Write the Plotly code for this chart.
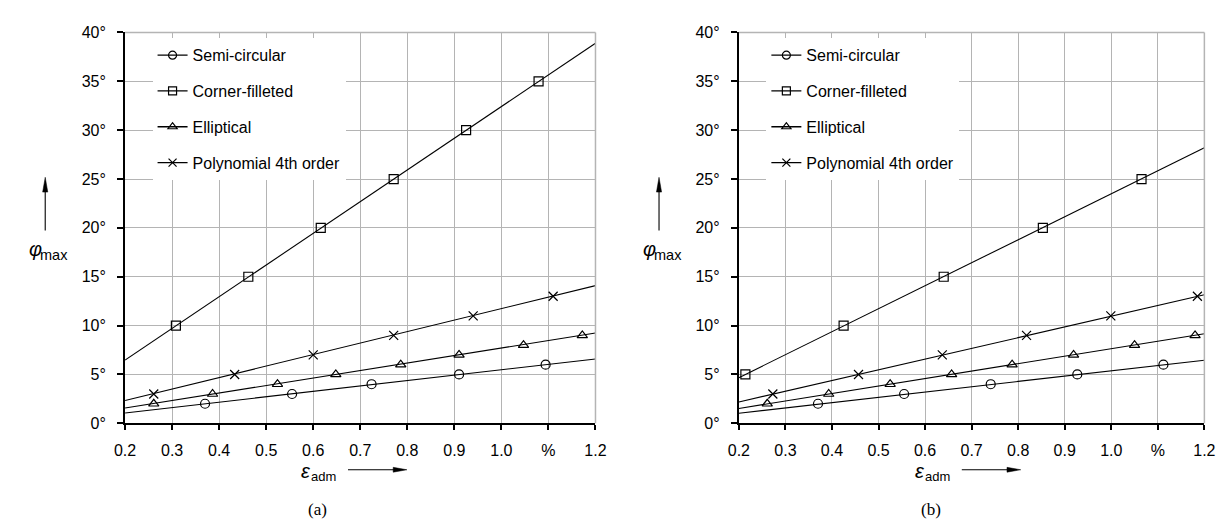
import plotly.graph_objects as go

W, H = 1228, 523

# ---------------- data ----------------
series_names = ["Semi-circular", "Corner-filleted", "Elliptical", "Polynomial 4th order"]
symbols = ["circle-open", "square-open", "triangle-up-open", "x-thin-open"]

# panel (a)
a_semi_x = [0.370, 0.555, 0.724, 0.910, 1.094]
a_semi_y = [2, 3, 4, 5, 6]
a_corner_x = [0.308, 0.462, 0.616, 0.771, 0.925, 1.079]
a_corner_y = [10, 15, 20, 25, 30, 35]
a_ellip_x = [0.261, 0.386, 0.524, 0.648, 0.786, 0.910, 1.047, 1.172]
a_ellip_y = [2, 3, 4, 5, 6, 7, 8, 9]
a_poly_x = [0.261, 0.433, 0.600, 0.771, 0.940, 1.110]
a_poly_y = [3, 5, 7, 9, 11, 13]

# fitted lines (a), values at eps = 0.2 and 1.2
fit_x = [0.2, 1.2]
a_semi_fit = [1.06, 6.58]
a_corner_fit = [6.47, 38.9]
a_ellip_fit = [1.56, 9.24]
a_poly_fit = [2.33, 14.09]

# panel (b)
b_semi_x = [0.370, 0.555, 0.741, 0.927, 1.112]
b_semi_y = [2, 3, 4, 5, 6]
b_corner_x = [0.214, 0.425, 0.640, 0.853, 1.065]
b_corner_y = [5, 10, 15, 20, 25]
b_ellip_x = [0.261, 0.393, 0.525, 0.657, 0.787, 0.919, 1.050, 1.180]
b_ellip_y = [2, 3, 4, 5, 6, 7, 8, 9]
b_poly_x = [0.273, 0.457, 0.637, 0.818, 0.999, 1.185]
b_poly_y = [3, 5, 7, 9, 11, 13]

b_semi_fit = [1.03, 6.46]
b_corner_fit = [4.67, 28.2]
b_ellip_fit = [1.52, 9.17]
b_poly_fit = [2.19, 13.15]

x_tickvals = [0.2, 0.3, 0.4, 0.5, 0.6, 0.7, 0.8, 0.9, 1.0, 1.1, 1.2]
x_ticktext = ["0.2", "0.3", "0.4", "0.5", "0.6", "0.7", "0.8", "0.9", "1.0", "%", "1.2"]
y_tickvals = [0, 5, 10, 15, 20, 25, 30, 35, 40]
y_ticktext = ["0°", "5°", "10°", "15°", "20°", "25°", "30°", "35°", "40°"]

# ---------------- styling ----------------
FONT = "Liberation Sans, Arial, sans-serif"
SERIF = "Liberation Serif, Times New Roman, serif"
GRID = "#b4b4b4"


def px(x):
    return x / W


def py(y):
    return 1 - y / H


panels = [
    dict(xa="x", ya="y", legend="legend",
         data=[(a_semi_x, a_semi_y, a_semi_fit), (a_corner_x, a_corner_y, a_corner_fit),
               (a_ellip_x, a_ellip_y, a_ellip_fit), (a_poly_x, a_poly_y, a_poly_fit)]),
    dict(xa="x2", ya="y2", legend="legend2",
         data=[(b_semi_x, b_semi_y, b_semi_fit), (b_corner_x, b_corner_y, b_corner_fit),
               (b_ellip_x, b_ellip_y, b_ellip_fit), (b_poly_x, b_poly_y, b_poly_fit)]),
]

fig = go.Figure()
for p in panels:
    for i, (xs, ys, fit) in enumerate(p["data"]):
        fig.add_trace(go.Scatter(x=fit_x, y=fit, mode="lines", xaxis=p["xa"], yaxis=p["ya"],
                                 line=dict(color="black", width=1.1), showlegend=False,
                                 hoverinfo="skip"))
        fig.add_trace(go.Scatter(x=xs, y=ys, mode="markers", xaxis=p["xa"], yaxis=p["ya"],
                                 marker=dict(symbol=symbols[i], size=9, color="black",
                                             line=dict(color="black", width=1.2)),
                                 showlegend=False, name=series_names[i]))
    for i, name in enumerate(series_names):
        fig.add_trace(go.Scatter(x=[None], y=[None], mode="lines+markers", name=name,
                                 xaxis=p["xa"], yaxis=p["ya"], legend=p["legend"],
                                 legendgroup=p["legend"] + str(i),
                                 line=dict(color="black", width=1.3),
                                 marker=dict(symbol=symbols[i], size=8, color="black",
                                             line=dict(color="black", width=1.2))))

xdom_a = [px(108), px(587)]
xdom_b = [px(733), px(1207)]
ydom = [py(421), py(17)]

common_x = dict(range=[0.2, 1.2], tickmode="array", tickvals=x_tickvals, ticktext=x_ticktext,
                showgrid=True, gridcolor=GRID, gridwidth=1, showline=True, linecolor="black",
                linewidth=2, ticks="outside", ticklen=5, tickcolor="black", tickwidth=1.5,
                tickfont=dict(family=FONT, size=16, color="black"), zeroline=False,
                ticklabelstandoff=6, fixedrange=True)
common_y = dict(range=[0, 40], tickmode="array", tickvals=y_tickvals, ticktext=y_ticktext,
                showgrid=True, gridcolor=GRID, gridwidth=1, showline=True, linecolor="black",
                linewidth=2, ticks="outside", ticklen=6, tickcolor="black", tickwidth=1.5,
                tickfont=dict(family=FONT, size=16, color="black"), zeroline=False,
                ticklabelstandoff=8, fixedrange=True)

legend_common = dict(bgcolor="white", borderwidth=0, xanchor="left", yanchor="top",
                     font=dict(family=FONT, size=16, color="black"), tracegroupgap=12,
                     itemwidth=30)

annotations = []
shapes = []


def ann(x, y, text, size, family=FONT):
    return dict(x=px(x), y=py(y), xref="paper", yref="paper", text=text, showarrow=False,
                xanchor="center", yanchor="middle",
                font=dict(family=family, size=size, color="black"))


for off, cap in [(0, "(a)"), (625, "(b)")]:
    # y title: phi_max with upward arrow
    annotations.append(ann(16.7 + off, 240.5, "<i>φ</i>", 20))
    annotations.append(ann(35.5 + off, 247.5, "max", 14.5))
    shapes.append(dict(type="line", xref="paper", yref="paper",
                       x0=px(26.7 + off), x1=px(26.7 + off), y0=py(221.7), y1=py(180),
                       line=dict(color="black", width=1.1)))
    shapes.append(dict(type="path", xref="paper", yref="paper",
                       path=f"M {px(26.7 + off)} {py(166.7)} L {px(24.1 + off)} {py(182)} "
                            f"L {px(29.3 + off)} {py(182)} Z",
                       fillcolor="black", line=dict(color="black", width=0.5)))
    # x title: eps_adm with right arrow
    annotations.append(ann(292 + off, 470, "<i>ε</i>", 20))
    annotations.append(ann(310.5 + off, 475.5, "adm", 13))
    shapes.append(dict(type="line", xref="paper", yref="paper",
                       x0=px(335 + off), x1=px(384 + off), y0=py(469), y1=py(469),
                       line=dict(color="black", width=1.1)))
    shapes.append(dict(type="path", xref="paper", yref="paper",
                       path=f"M {px(395 + off)} {py(469)} L {px(381 + off)} {py(466.5)} "
                            f"L {px(381 + off)} {py(471.5)} Z",
                       fillcolor="black", line=dict(color="black", width=0.5)))
    # caption
    annotations.append(ann(304 + off, 510.5, cap, 17, SERIF))

for xa, ya in [("x", "y"), ("x2", "y2")]:
    shapes.append(dict(type="line", xref=xa + " domain", yref=ya + " domain", x0=0, x1=1,
                       y0=1, y1=1, line=dict(color=GRID, width=1.5)))
    shapes.append(dict(type="line", xref=xa + " domain", yref=ya + " domain", x0=1, x1=1,
                       y0=0, y1=1, line=dict(color=GRID, width=1.5)))

fig.update_layout(
    width=W, height=H, autosize=False,
    margin=dict(l=0, r=0, t=0, b=0),
    paper_bgcolor="white", plot_bgcolor="white",
    xaxis=dict(domain=xdom_a, anchor="y", **common_x),
    yaxis=dict(domain=ydom, anchor="x", **common_y),
    xaxis2=dict(domain=xdom_b, anchor="y2", **common_x),
    yaxis2=dict(domain=ydom, anchor="x2", **common_y),
    legend=dict(x=px(136), y=py(23), **legend_common),
    legend2=dict(x=px(761), y=py(23), **legend_common),
    annotations=annotations,
    shapes=shapes,
    showlegend=True,
)

fig.write_html("out.html")
